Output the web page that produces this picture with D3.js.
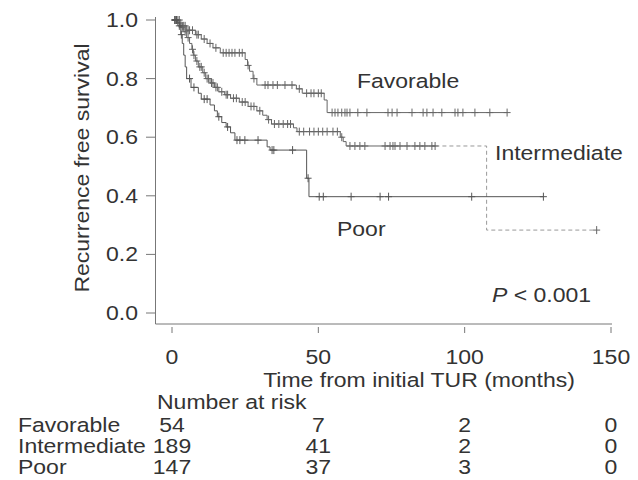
<!DOCTYPE html>
<html>
<head>
<meta charset="utf-8">
<script src="https://cdn.jsdelivr.net/npm/d3@7"></script>
<style>
  body { margin: 0; background: #fff; }
  text { font-family: "Liberation Sans", Arial, sans-serif; fill: #333; }
</style>
</head>
<body>
<svg id="chart" width="638" height="480"></svg>
<script>
// Kaplan-Meier curves: [time (months), survival after the step]
const favorableSteps = [[3,0.98],[5,0.965],[8,0.95],[10,0.935],[12,0.92],[14,0.905],[16.5,0.888],
  [25,0.865],[25.8,0.845],[26.5,0.825],[27.7,0.80],[29,0.778],[42.5,0.765],[44.5,0.75],[52,0.727],[53,0.684]];
const favorableCensor = [1,1.5,2,2.5,3.5,4,4.5,5.5,6,7,8.5,9,11,13,15,17.5,18.5,19.5,20.5,21.5,23,24,26,28,
  31.8,32.8,34.5,36,38.6,41,43.5,46,47.5,48.5,50,51,54.7,55.7,56.7,58,59.1,59.8,60.8,63.5,66.6,
  73.8,75.2,76.9,82,85.8,87.1,89.2,92.2,96.7,97.7,99.4,103.5,108.6,114.5];

const intermediateSteps = [[2,0.99],[3,0.975],[4,0.96],[5,0.94],[6,0.92],[6.8,0.90],[7.3,0.88],[8,0.86],
  [9,0.84],[10.5,0.82],[11.5,0.80],[13,0.785],[14.5,0.77],[16,0.755],[18,0.745],[20,0.733],[23,0.72],
  [26,0.705],[29,0.69],[31,0.675],[32.5,0.66],[34,0.645],[41.5,0.632],[42.7,0.619],[57.5,0.60],
  [58.5,0.585],[59.5,0.57],[107.5,0.283]];
const intermediateCensor = [1,1.5,2.5,3.5,4.5,5.5,7,7.5,8.5,9.5,10,11,12,12.5,13.5,14,15,15.5,17,18.5,19,
  21,22,24,25,27,28,30,33,35,36.5,38,39.5,40.5,43.5,45,47,48.5,50,51.5,53,55,56.5,58,
  60.8,62.5,64.2,65.9,72.8,74.5,75.5,76.2,77.9,80.3,83,84.7,86.4,88.8,89.9,145.1];

const poorSteps = [[2,0.98],[3,0.95],[3.5,0.92],[4,0.88],[4.5,0.84],[5,0.80],[6.5,0.77],[9,0.75],[10,0.73],
  [13,0.71],[14.5,0.69],[15.5,0.67],[17,0.65],[18.5,0.635],[20,0.615],[21.5,0.59],[32.5,0.567],
  [33.5,0.556],[46,0.46],[46.8,0.397]];
const poorCensor = [1,1.5,2.5,3.2,6,7.5,11,12,16,19,22.2,23.2,24.9,29.4,34.2,34.8,41.2,46.5,
  50.3,51.7,61.2,71.1,74,102.4,126.9];

const xTicks = [0, 50, 100, 150];
const yTicks = [0, 0.2, 0.4, 0.6, 0.8, 1.0];
const groups = ['Favorable', 'Intermediate', 'Poor'];
const atRisk = [[54, 7, 2, 0], [189, 41, 2, 0], [147, 37, 3, 0]];

const svg = d3.select('#chart');
const x = d3.scaleLinear().domain([0, 150]).range([172, 611]);
const y = d3.scaleLinear().domain([0, 1]).range([313, 20]);
const stretch = 1.18;

function label(str, px, py, anchor, extra) {
  const t = svg.append('text')
    .attr('transform', `translate(${px},${py}) ${extra || ''} scale(${stretch},1)`)
    .attr('text-anchor', anchor || 'start')
    .attr('font-size', 19.5)
    .text(str);
  return t;
}

function survivalAt(steps, t) {
  let v = 1;
  steps.forEach(s => { if (s[0] <= t) v = s[1]; });
  return v;
}

const line = d3.line().x(d => x(d[0])).y(d => y(d[1])).curve(d3.curveStepAfter);

function drawCurve(steps, censor, color, dashFrom) {
  const end = d3.max(censor);
  const pts = [[0, 1], ...steps, [end, steps[steps.length - 1][1]]];
  if (dashFrom) {
    const solid = pts.filter(p => p[0] < dashFrom).concat([[dashFrom, survivalAt(steps, dashFrom)]]);
    const dashed = [[dashFrom, survivalAt(steps, dashFrom)]].concat(pts.filter(p => p[0] > dashFrom));
    svg.append('path').attr('d', line(solid)).attr('fill', 'none').attr('stroke', color).attr('stroke-width', 1);
    svg.append('path').attr('d', line(dashed)).attr('fill', 'none').attr('stroke', '#999')
      .attr('stroke-width', 1).attr('stroke-dasharray', '4,3');
  } else {
    svg.append('path').attr('d', line(pts)).attr('fill', 'none').attr('stroke', color).attr('stroke-width', 1);
  }
  svg.append('g').selectAll('path')
    .data(censor)
    .join('path')
    .attr('d', t => {
      const cx = x(t), cy = y(survivalAt(steps, t));
      return `M${cx - 3.5},${cy}H${cx + 3.5}M${cx},${cy - 4}V${cy + 4}`;
    })
    .attr('stroke', color)
    .attr('stroke-width', 1);
}

drawCurve(favorableSteps, favorableCensor, '#666');
drawCurve(intermediateSteps, intermediateCensor, '#666', 90);
drawCurve(poorSteps, poorCensor, '#555');

// 軸
const axisColor = '#777';
svg.append('line').attr('x1', 155.5).attr('x2', 155.5).attr('y1', 17).attr('y2', 324)
  .attr('stroke', axisColor);
svg.append('line').attr('x1', 155.5).attr('x2', 612).attr('y1', 324).attr('y2', 324)
  .attr('stroke', axisColor);

yTicks.forEach(v => {
  svg.append('line').attr('x1', 146).attr('x2', 155.5).attr('y1', y(v)).attr('y2', y(v))
    .attr('stroke', axisColor);
  label(d3.format('.1f')(v), 138, y(v) + 7, 'end');
});

xTicks.forEach(t => {
  svg.append('line').attr('x1', x(t)).attr('x2', x(t)).attr('y1', 327).attr('y2', 333)
    .attr('stroke', axisColor);
  label(t, x(t), 364, 'middle');
});

label('Recurrence free survival', 89, 168, 'middle', 'rotate(-90)');
label('Time from initial TUR (months)', 419, 387, 'middle');

// 曲線ラベル
label('Favorable', 357, 88, 'start');
label('Intermediate', 495, 160, 'start');
label('Poor', 337, 236, 'start');

const pLabel = label('', 492, 302, 'start');
pLabel.append('tspan').attr('font-style', 'italic').text('P');
pLabel.append('tspan').text(' < 0.001');
pLabel.attr('fill', '#555');

// Number at risk
label('Number at risk', 157, 409, 'start');
groups.forEach((g, i) => {
  const by = 432 + i * 21;
  label(g, 18, by, 'start');
  atRisk[i].forEach((n, j) => label(n, x(xTicks[j]), by, 'middle'));
});
</script>
</body>
</html>
